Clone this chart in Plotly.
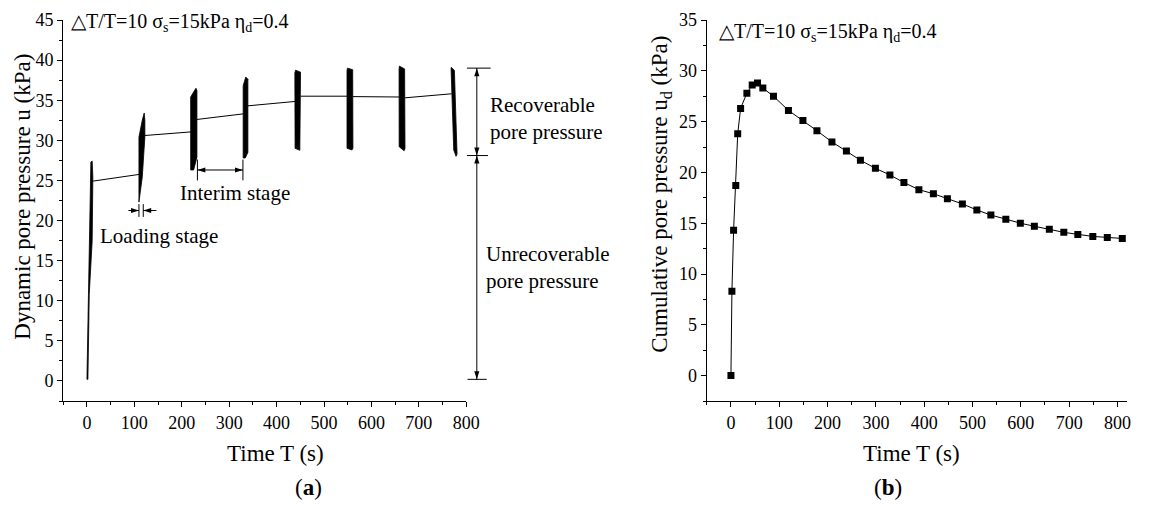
import plotly.graph_objects as go

# ---------------- data ----------------
# (a) envelopes of the dense cyclic pore-pressure records, one polygon per loading stage
load1_t = [0, 2.8, 5.6, 8.3, 11.1, 12.5, 11.1, 4.9, 2.1]
load1_u = [0.2, 10.8, 17.5, 27.3, 27.4, 25.4, 17.5, 10.8, 0.2]
load2_t = [109.7, 109.7, 116.7, 120.8, 122.2, 122.2, 116.7, 111.0]
load2_u = [22.3, 30.4, 32.5, 33.4, 32.5, 30.4, 25.4, 22.3]
load3_t = [218.8, 218.8, 229.9, 232.0, 232.0, 225.0]
load3_u = [26.3, 35.4, 36.5, 36.2, 27.9, 26.3]
load4_t = [329.5, 329.5, 335.0, 339.5, 339.5, 334.0]
load4_u = [27.8, 36.8, 37.9, 37.6, 28.5, 27.8]
load5_t = [438.5, 440.0, 450.5, 450.5, 449.0, 439.0]
load5_u = [38.4, 38.75, 38.5, 29.0, 28.75, 29.0]
load6_t = [548.5, 549.5, 560.5, 561.0, 559.0, 548.5]
load6_u = [38.7, 39.0, 38.8, 29.0, 28.8, 29.0]
load7_t = [658.3, 659.0, 670.0, 670.8, 669.0, 658.5]
load7_u = [38.9, 39.25, 38.9, 29.0, 28.7, 29.2]
load8_t = [768.0, 768.5, 775.0, 780.6, 778.5, 773.6]
load8_u = [38.9, 39.1, 38.7, 28.3, 28.0, 28.8]

# (a) interim stages: start/end time and pore pressure of each thin segment
interim_t0 = [11, 122, 232, 339.5, 451, 561, 671]
interim_t1 = [110, 220, 330, 440, 549, 659, 769]
interim_u0 = [24.9, 30.6, 32.6, 34.3, 35.5, 35.45, 35.3]
interim_u1 = [25.75, 31.05, 33.3, 34.85, 35.5, 35.4, 35.8]

# (b) cumulative pore pressure
time_b = [0, 2, 5.5, 10, 14, 20, 33, 44, 55, 66, 88, 119, 149, 178, 209, 239, 268, 299,
          329, 358, 389, 419, 448, 479, 509, 538, 569, 599, 628, 659, 689, 718, 749, 779, 810]
ud_b = [0, 8.3, 14.3, 18.7, 23.8, 26.3, 27.8, 28.6, 28.8, 28.3, 27.5, 26.1, 25.1, 24.1, 23.0,
        22.1, 21.2, 20.4, 19.75, 19.0, 18.3, 17.9, 17.4, 16.9, 16.3, 15.8, 15.4, 15.0, 14.7,
        14.4, 14.1, 13.9, 13.7, 13.6, 13.5]

# ---------------- figure ----------------
W, H = 1150, 505
MT, MB = 20, 104
FONT = "Liberation Serif"


def px(x):
    return x / W


def py(y):
    return (H - MB - y) / (H - MT - MB)


fig = go.Figure()

loads = [(load1_t, load1_u), (load2_t, load2_u), (load3_t, load3_u), (load4_t, load4_u),
         (load5_t, load5_u), (load6_t, load6_u), (load7_t, load7_u), (load8_t, load8_u)]
for lt, lu in loads:
    fig.add_trace(go.Scatter(x=lt + [lt[0]], y=lu + [lu[0]], mode="lines", fill="toself",
                             fillcolor="black", line=dict(color="black", width=0.8),
                             hoverinfo="skip", showlegend=False, xaxis="x", yaxis="y"))

ix, iy = [], []
for a, b, c, d in zip(interim_t0, interim_t1, interim_u0, interim_u1):
    ix += [a, b, None]
    iy += [c, d, None]
fig.add_trace(go.Scatter(x=ix, y=iy, mode="lines", line=dict(color="black", width=1),
                         showlegend=False, xaxis="x", yaxis="y"))

fig.add_trace(go.Scatter(x=time_b, y=ud_b, mode="lines+markers",
                         line=dict(color="black", width=1),
                         marker=dict(symbol="square", size=7, color="black"),
                         showlegend=False, xaxis="x2", yaxis="y2"))

axis_common = dict(showline=True, linecolor="black", linewidth=1.3, ticks="outside",
                   ticklen=5, tickwidth=1.2, tickcolor="black", showgrid=False,
                   zeroline=False, tickfont=dict(family=FONT, size=18, color="black"),
                   mirror=False)

fig.update_layout(
    width=W, height=H, autosize=False, margin=dict(l=0, r=0, t=MT, b=MB),
    paper_bgcolor="white", plot_bgcolor="white",
    font=dict(family=FONT, color="black"),
    xaxis=dict(domain=[px(64), px(472)], range=[-50, 800], dtick=100, tick0=0, anchor="y",
               minor=dict(dtick=50, ticklen=3, tickcolor="black", ticks="outside"),
               **axis_common),
    yaxis=dict(domain=[0, 1], range=[-2.5, 45], dtick=5, tick0=0, anchor="x",
               minor=dict(dtick=2.5, ticklen=3, tickcolor="black", ticks="outside"),
               **axis_common),
    xaxis2=dict(domain=[px(715.5), px(1141)], range=[-50, 820], dtick=100, tick0=0, anchor="y2",
                minor=dict(dtick=50, ticklen=3, tickcolor="black", ticks="outside"),
                **axis_common),
    yaxis2=dict(domain=[0, 1], range=[-2.5, 35], dtick=5, tick0=0, anchor="x2",
                minor=dict(dtick=2.5, ticklen=3, tickcolor="black", ticks="outside"),
                **axis_common),
)

ann = []


def text(x, y, s, size=21, xref="paper", yref="paper", xanchor="left", angle=0):
    ann.append(dict(x=x, y=y, xref=xref, yref=yref, text=s, showarrow=False,
                    xanchor=xanchor, yanchor="middle", textangle=angle, align="left",
                    font=dict(family=FONT, size=size, color="black")))


title = "\u25B3T/T=10 \u03C3<sub>s</sub>=15kPa \u03B7<sub>d</sub>=0.4"
text(px(70), py(23), title, size=20)
text(px(726), py(32), title, size=20)
text(px(23), py(197), "Dynamic pore pressure u (kPa)", size=23, xanchor="center", angle=-90)
text(px(669), py(194), "Cumulative pore pressure u<sub>d</sub> (kPa)", size=23,
     xanchor="center", angle=-90)
text(px(278.5), py(453), "Time T (s)", size=23, xanchor="center")
text(px(922.5), py(453), "Time T (s)", size=23, xanchor="center")
text(px(312), py(487), "(<b>a</b>)", size=23, xanchor="center")
text(px(899), py(487), "(<b>b</b>)", size=23, xanchor="center")
text(193, 23.4, "Interim stage", xref="x", yref="y")
text(24, 18.1, "Loading stage", xref="x", yref="y")
text(px(494), 32.7, "Recoverable<br>pore pressure", yref="y")
text(px(490), 14.2, "Unrecoverable<br>pore pressure", yref="y")
fig.update_layout(annotations=ann)

shapes = []
LINE = dict(color="black", width=1)

# vertical dimension arrows (outside the plot, x in paper units)
xa = px(482.7)
HL = 8 * 47.5 / 381      # arrowhead length in data units (8 px)
HW = 2.6 / W             # arrowhead half width in paper units
for y0, y1 in [(39.0, 28.1), (28.1, 0.2)]:
    shapes.append(dict(type="line", xref="paper", yref="y", x0=xa, x1=xa, y0=y0, y1=y1, line=LINE))
    shapes.append(dict(type="path", xref="paper", yref="y", fillcolor="black", line=dict(width=0),
                       path=f"M{xa},{y0} L{xa - HW},{y0 - HL} L{xa + HW},{y0 - HL} Z"))
    shapes.append(dict(type="path", xref="paper", yref="y", fillcolor="black", line=dict(width=0),
                       path=f"M{xa},{y1} L{xa - HW},{y1 + HL} L{xa + HW},{y1 + HL} Z"))
for yy, xl, xr in [(39.0, 472.7, 496.7), (28.1, 472.7, 494.0), (0.2, 473.3, 492.7)]:
    shapes.append(dict(type="line", xref="paper", yref="y", x0=px(xl), x1=px(xr), y0=yy, y1=yy,
                       line=LINE))

# horizontal dimension arrows inside panel (a)
TL = 8 * 850 / 408       # arrowhead length in seconds (8 px)
TW = 2.6 * 47.5 / 381    # arrowhead half height in kPa


def harrow(tip, y, direction):
    b = tip - direction * TL
    shapes.append(dict(type="path", xref="x", yref="y", fillcolor="black", line=dict(width=0),
                       path=f"M{tip},{y} L{b},{y - TW} L{b},{y + TW} Z"))


def vbar(t, y, half):
    shapes.append(dict(type="line", xref="x", yref="y", x0=t, x1=t, y0=y - half, y1=y + half,
                       line=LINE))


yi = 26.3
shapes.append(dict(type="line", xref="x", yref="y", x0=233, x1=329, y0=yi, y1=yi, line=LINE))
harrow(233, yi, -1)
harrow(329, yi, 1)
vbar(233, yi, 1.3)
vbar(329, yi, 1.3)

yl = 21.25
shapes.append(dict(type="line", xref="x", yref="y", x0=87.5, x1=109.7, y0=yl, y1=yl, line=LINE))
shapes.append(dict(type="line", xref="x", yref="y", x0=118.8, x1=146.5, y0=yl, y1=yl, line=LINE))
harrow(109.7, yl, 1)
harrow(118.8, yl, -1)
vbar(109.7, yl, 0.8)
vbar(118.8, yl, 0.8)

fig.update_layout(shapes=shapes)

fig.write_html("out.html", config={"responsive": False})
